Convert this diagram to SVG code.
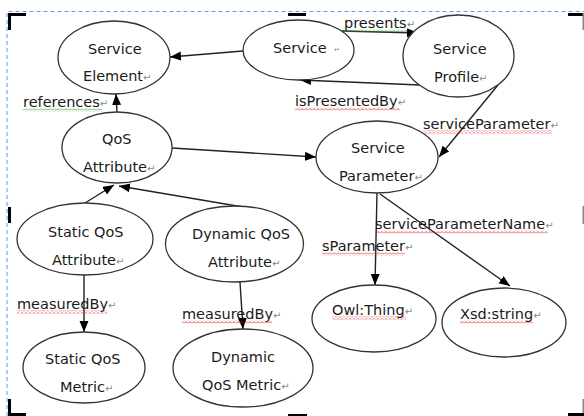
<svg xmlns="http://www.w3.org/2000/svg" width="584" height="416" viewBox="0 0 584 416">
<style>
.node ellipse{fill:#fff;stroke:#333;stroke-width:1.3}
text{font-family:"DejaVu Sans","Liberation Sans",sans-serif;font-size:14.5px;fill:#1a1a1a}
.pm{font-size:10px;fill:#888}
.edge{stroke:#222;stroke-width:1.4;fill:none;marker-end:url(#arr)}
.mark{fill:#000}
.gmark{fill:#888}
</style>
<defs>
<marker id="arr" markerUnits="userSpaceOnUse" markerWidth="12" markerHeight="10" refX="11" refY="4.5" orient="auto">
<path d="M0,0 L11,4.5 L0,9 z" fill="#000"/>
</marker>
<pattern id="wr" width="4" height="3" patternUnits="userSpaceOnUse">
<path d="M0,2.5 L2,0.5 L4,2.5" stroke="#e02020" stroke-width="0.8" fill="none"/>
</pattern>
<pattern id="wg" width="4" height="3" patternUnits="userSpaceOnUse">
<path d="M0,2.5 L2,0.5 L4,2.5" stroke="#2a9a2a" stroke-width="0.8" fill="none"/>
</pattern>
</defs>
<rect width="584" height="416" fill="#fff"/>
<!-- page frame -->
<path d="M7,416 V11.5 H584" stroke="#5b9bf0" stroke-width="1" stroke-dasharray="4,3" fill="none"/>
<g id="corners">
<rect class="mark" x="8" y="13" width="18" height="3"/>
<rect class="mark" x="8" y="13" width="3" height="17"/>
<rect class="mark" x="288" y="13" width="18" height="3"/>
<rect class="mark" x="568" y="13" width="16" height="3"/>
<rect class="gmark" x="582.5" y="13" width="1.5" height="17"/>
<rect class="mark" x="8" y="207" width="3" height="16"/>
<rect class="gmark" x="582.5" y="206" width="1.5" height="18"/>
<rect class="mark" x="8" y="399" width="3" height="17"/>
<rect class="mark" x="8" y="413" width="18" height="3"/>
<rect class="mark" x="288" y="414" width="19" height="2"/>
<rect class="gmark" x="582.5" y="399" width="1.5" height="15"/>
<rect class="mark" x="568" y="413" width="16" height="3"/>
</g>
<g id="connectors">
<path class="edge" d="M243,51 L170,57"/>
<path class="edge" d="M342,31 L418,33"/>
<path class="edge" d="M420,85 L300,80"/>
<path class="edge" d="M117,112 L116,94"/>
<path class="edge" d="M498,85 L439,157"/>
<path class="edge" d="M172,148 L316,157"/>
<path class="edge" d="M85,203 L114,185"/>
<path class="edge" d="M243,207 L119,186"/>
<path class="edge" d="M84,275 L84,332"/>
<path class="edge" d="M240,282 L243,329"/>
<path class="edge" d="M377,193 L375,285"/>
<path class="edge" d="M380,194 L510,286"/>
</g>
<g id="edge-labels">
<text x="344" y="28">presents<tspan class="pm">↵</tspan></text>
<rect x="344" y="29.5" width="63" height="3" fill="url(#wg)"/>
<text x="295" y="106">isPresentedBy<tspan class="pm">↵</tspan></text>
<rect x="295" y="107.5" width="105" height="3" fill="url(#wr)"/>
<text x="23" y="107">references<tspan class="pm">↵</tspan></text>
<rect x="23" y="108.5" width="79" height="3" fill="url(#wg)"/>
<text x="423" y="129">serviceParameter<tspan class="pm">↵</tspan></text>
<rect x="423" y="130.5" width="129" height="3" fill="url(#wr)"/>
<text x="375" y="229">serviceParameterName<tspan class="pm">↵</tspan></text>
<rect x="375" y="230.5" width="173" height="3" fill="url(#wr)"/>
<text x="322" y="251">sParameter<tspan class="pm">↵</tspan></text>
<rect x="322" y="252.5" width="83" height="3" fill="url(#wr)"/>
<text x="17" y="309">measuredBy<tspan class="pm">↵</tspan></text>
<rect x="17" y="310.5" width="90" height="3" fill="url(#wr)"/>
<text x="182" y="319">measuredBy<tspan class="pm">↵</tspan></text>
<rect x="182" y="320.5" width="90" height="3" fill="url(#wr)"/>
</g>
<g id="service-element" class="node">
<ellipse cx="114" cy="57.5" rx="56" ry="36.5"/>
<text x="88" y="54">Service</text>
<text x="83" y="81">Element<tspan class="pm">↵</tspan></text>
</g>
<g id="service" class="node">
<ellipse cx="298.5" cy="50" rx="55.5" ry="30"/>
<text x="273" y="53">Service</text>
<text x="334" y="52" class="pm" style="font-size:7px">↵</text>
</g>
<g id="service-profile" class="node">
<ellipse cx="458.5" cy="56" rx="55.5" ry="41"/>
<text x="433" y="54">Service</text>
<text x="434" y="82">Profile<tspan class="pm">↵</tspan></text>
</g>
<g id="qos-attribute" class="node">
<ellipse cx="117" cy="147.5" rx="55" ry="35.5"/>
<text x="102" y="144">QoS</text>
<text x="83" y="172">Attribute<tspan class="pm">↵</tspan></text>
</g>
<g id="service-parameter" class="node">
<ellipse cx="377" cy="157" rx="61" ry="36"/>
<text x="351" y="153">Service</text>
<text x="339" y="181">Parameter<tspan class="pm">↵</tspan></text>
</g>
<g id="static-qos-attribute" class="node">
<ellipse cx="85" cy="239" rx="68" ry="36"/>
<text x="48" y="237">Static QoS</text>
<text x="52" y="265">Attribute<tspan class="pm">↵</tspan></text>
</g>
<g id="dynamic-qos-attribute" class="node">
<ellipse cx="234.5" cy="244" rx="69" ry="38"/>
<text x="192" y="239">Dynamic QoS</text>
<text x="208" y="267">Attribute<tspan class="pm">↵</tspan></text>
</g>
<g id="static-qos-metric" class="node">
<ellipse cx="84" cy="367.5" rx="61" ry="35.5"/>
<text x="45" y="364">Static QoS</text>
<text x="60" y="392">Metric<tspan class="pm">↵</tspan></text>
</g>
<g id="dynamic-qos-metric" class="node">
<ellipse cx="243" cy="368" rx="70" ry="39"/>
<text x="211" y="362">Dynamic</text>
<text x="202" y="390">QoS Metric<tspan class="pm">↵</tspan></text>
</g>
<g id="owl-thing" class="node">
<ellipse cx="374" cy="318.5" rx="62" ry="33.5"/>
<text x="332" y="315">Owl:Thing<tspan class="pm">↵</tspan></text>
<rect x="332" y="316.5" width="74" height="3" fill="url(#wr)"/>
</g>
<g id="xsd-string" class="node">
<ellipse cx="504" cy="322.5" rx="62" ry="34.5"/>
<text x="460" y="319">Xsd:string<tspan class="pm">↵</tspan></text>
<rect x="460" y="320.5" width="73" height="3" fill="url(#wr)"/>
</g>
</svg>
